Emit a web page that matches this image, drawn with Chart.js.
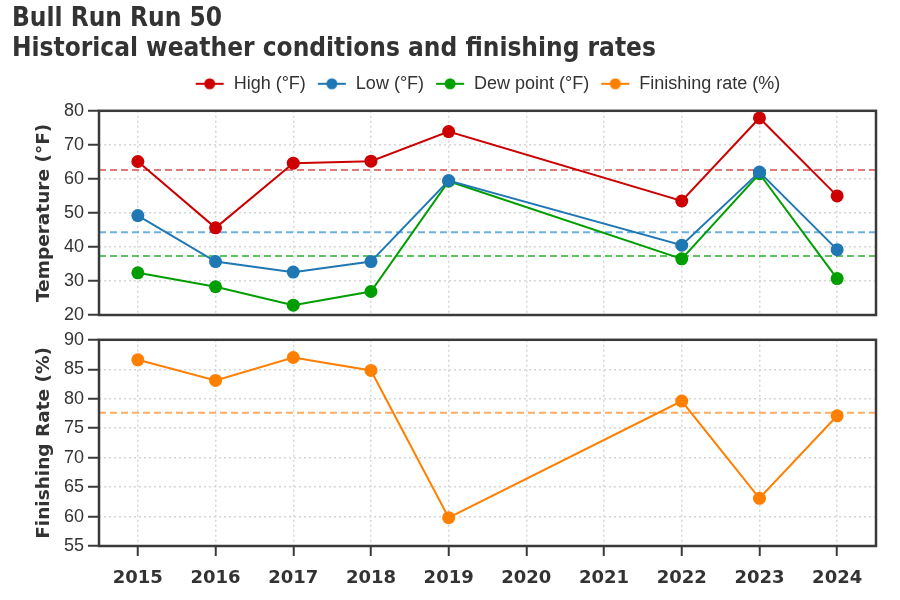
<!DOCTYPE html>
<html>
<head>
<meta charset="utf-8">
<script src="https://cdn.jsdelivr.net/npm/chart.js@4.4.1/dist/chart.umd.min.js"></script>
<style>
    body { margin: 0; background: #fff; }
    #wrap { position: relative; width: 900px; height: 600px; }
    #wrap canvas { position: absolute; left: 0; }
    #topChart { top: 0; }
    #bottomChart { top: 325px; }
</style>
</head>
<body>
<div id="wrap">
    <canvas id="topChart" width="900" height="330"></canvas>
    <canvas id="bottomChart" width="900" height="275"></canvas>
</div>
<script>
// data (no race in 2020 / 2021)
const years = ["2015", "2016", "2017", "2018", "2019", "2020", "2021", "2022", "2023", "2024"];
const highTemp = [65.1, 45.6, 64.6, 65.2, 73.9, null, null, 53.5, 77.9, 55.0];
const lowTemp = [49.2, 35.7, 32.6, 35.7, 59.5, null, null, 40.5, 62.0, 39.2];
const dewPoint = [32.4, 28.3, 22.9, 26.9, 59.3, null, null, 36.5, 61.5, 30.7];
const finishRate = [86.6, 83.1, 87.0, 84.8, 59.8, null, null, 79.6, 63.1, 77.1];
const tempTicks = [20, 30, 40, 50, 60, 70, 80];
const rateTicks = [55, 60, 65, 70, 75, 80, 85, 90];

const TEXT = "#333";
const FRAME = "#3a3a3a";
const series = [
    { label: "High (°F)", color: "#cc0000", mean: "rgba(214,64,64,0.7)", data: highTemp },
    { label: "Low (°F)", color: "#1f77b4", mean: "rgba(60,150,210,0.75)", data: lowTemp },
    { label: "Dew point (°F)", color: "#009e00", mean: "rgba(40,175,40,0.75)", data: dewPoint },
    { label: "Finishing rate (%)", color: "#ff7f00", mean: "rgba(255,150,60,0.8)", data: finishRate },
];

function mean(arr) {
    const v = arr.filter((d) => d !== null);
    return v.reduce((a, b) => a + b, 0) / v.length;
}

// legend marker: short line with a dot
function legendIcon(color) {
    const c = document.createElement("canvas");
    c.width = 30;
    c.height = 14;
    const g = c.getContext("2d");
    g.strokeStyle = color;
    g.lineWidth = 2;
    g.beginPath();
    g.moveTo(1, 7);
    g.lineTo(29, 7);
    g.stroke();
    g.fillStyle = color;
    g.beginPath();
    g.arc(15, 7, 5.5, 0, Math.PI * 2);
    g.fill();
    return c;
}

// frame + dashed mean lines
const panelPlugin = {
    id: "panel",
    beforeDatasetsDraw(chart) {
        const { ctx, chartArea: a } = chart;
        const y = chart.scales.y;
        ctx.save();
        ctx.lineWidth = 2;
        ctx.setLineDash([7, 4]);
        chart.data.datasets.forEach((ds) => {
            const py = y.getPixelForValue(mean(ds.data));
            ctx.strokeStyle = ds.meanColor;
            ctx.beginPath();
            ctx.moveTo(a.left, py);
            ctx.lineTo(a.right, py);
            ctx.stroke();
        });
        ctx.restore();
    },
    afterDraw(chart) {
        const { ctx, chartArea: a } = chart;
        ctx.save();
        ctx.strokeStyle = FRAME;
        ctx.lineWidth = 2.5;
        ctx.strokeRect(a.left, a.top, a.right - a.left, a.bottom - a.top);
        ctx.restore();
    },
};

function makeDataset(s) {
    return {
        label: s.label,
        data: s.data,
        borderColor: s.color,
        backgroundColor: s.color,
        meanColor: s.mean,
        borderWidth: 2,
        pointRadius: 6.5,
        pointHoverRadius: 6.5,
        pointBorderWidth: 0,
        spanGaps: true,
        tension: 0,
    };
}

function yScale(ticks, title) {
    return {
        min: ticks[0],
        max: ticks[ticks.length - 1],
        afterBuildTicks: (s) => { s.ticks = ticks.map((v) => ({ value: v })); },
        afterFit: (s) => { s.width = 87; },
        ticks: {
            color: TEXT,
            padding: 4,
            font: { family: "'Liberation Sans', Arial, sans-serif", size: 18 },
        },
        grid: {
            color: "#d6d6d6",
            lineWidth: 1.5,
            tickColor: FRAME,
            tickWidth: 2,
            tickLength: 11,
            tickBorderDash: [],
        },
        border: { display: false, dash: [2, 3] },
        title: {
            display: true,
            text: title,
            color: TEXT,
            padding: { top: 21, bottom: 0 },
            font: { family: "'DejaVu Sans', sans-serif", size: 18.5, weight: "bold" },
        },
    };
}

function xScale(showLabels) {
    return {
        type: "category",
        offset: true,
        afterFit: (s) => { s.height = showLabels ? 44 : 0; },
        ticks: {
            display: showLabels,
            color: TEXT,
            padding: 12,
            maxRotation: 0,
            autoSkip: false,
            font: { family: "'DejaVu Sans', sans-serif", size: 18, weight: "bold" },
        },
        grid: {
            offset: false,
            color: "#d6d6d6",
            lineWidth: 1.5,
            drawTicks: showLabels,
            tickColor: FRAME,
            tickWidth: 2,
            tickLength: 10,
            tickBorderDash: [],
        },
        border: { display: false, dash: [2, 3] },
    };
}

// empty axis above the top panel, only used as a gap under the legend
const gapAxis = {
    type: "category",
    position: "top",
    afterFit: (s) => { s.height = 8; },
    ticks: { display: false },
    grid: { display: false, drawTicks: false },
    border: { display: false },
};

const topChart = new Chart(document.getElementById("topChart"), {
    type: "line",
    data: { labels: years, datasets: series.slice(0, 3).map(makeDataset) },
    options: {
        responsive: false,
        animation: false,
        layout: { padding: { left: 12, right: 24, top: 4, bottom: 15 } },
        plugins: {
            tooltip: { enabled: false },
            title: {
                display: true,
                align: "start",
                text: ["Bull Run Run 50", "Historical weather conditions and finishing rates"],
                color: TEXT,
                padding: { top: 0, bottom: 0 },
                font: { family: "'Liberation Sans Narrow', 'DejaVu Sans Condensed', sans-serif", size: 26, weight: "bold", lineHeight: 1.15 },
            },
            legend: {
                position: "top",
                fullSize: false,
                labels: {
                    usePointStyle: true,
                    pointStyleWidth: 30,
                    padding: 11,
                    color: TEXT,
                    font: { family: "'Liberation Sans', Arial, sans-serif", size: 18 },
                    generateLabels: () => series.map((s) => ({
                        text: s.label,
                        fillStyle: s.color,
                        strokeStyle: s.color,
                        fontColor: TEXT,
                        lineWidth: 0,
                        pointStyle: legendIcon(s.color),
                        hidden: false,
                    })),
                },
            },
        },
        scales: { x: xScale(false), gap: gapAxis, y: yScale(tempTicks, "Temperature (°F)") },
    },
    plugins: [panelPlugin],
});

const bottomChart = new Chart(document.getElementById("bottomChart"), {
    type: "line",
    data: { labels: years, datasets: [makeDataset(series[3])] },
    options: {
        responsive: false,
        animation: false,
        layout: { padding: { left: 12, right: 24, top: 0, bottom: 10 } },
        plugins: { tooltip: { enabled: false }, legend: { display: false } },
        scales: { x: xScale(true), y: yScale(rateTicks, "Finishing Rate (%)") },
    },
    plugins: [panelPlugin],
});
</script>
</body>
</html>
